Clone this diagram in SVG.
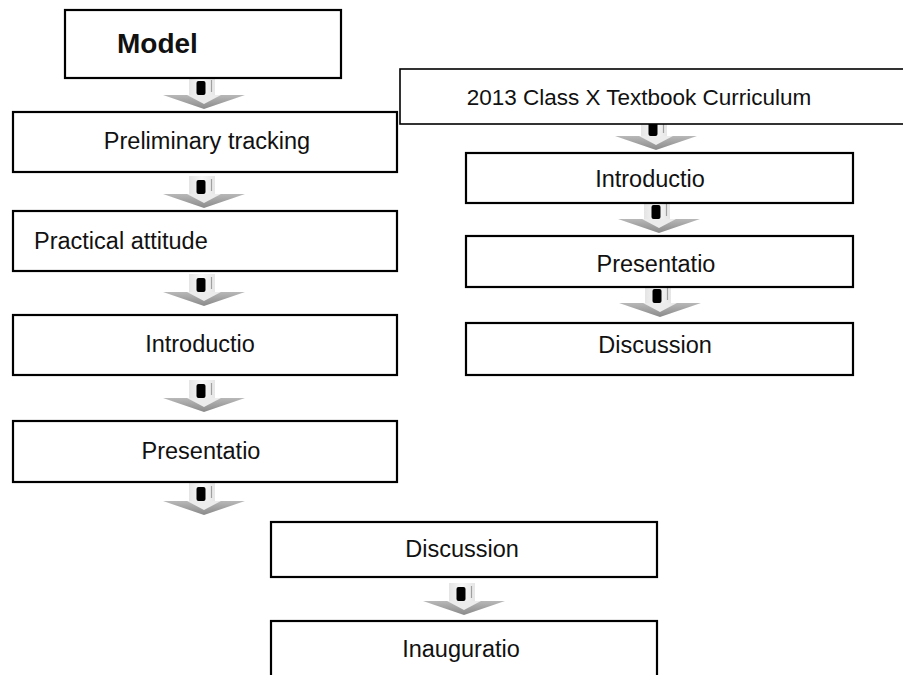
<svg xmlns="http://www.w3.org/2000/svg" width="903" height="675" viewBox="0 0 903 675">
<style>
.box{fill:#fff;stroke:#000;stroke-width:2.2}
.thin{stroke-width:1.6}
.t{font-family:"Liberation Sans",Arial,sans-serif;font-size:23.5px;fill:#111}
.c{text-anchor:middle}
.b{font-weight:bold;font-size:28px}
</style>
<defs>
<linearGradient id="sg" x1="0" y1="0" x2="1" y2="0">
<stop offset="0" stop-color="#e4e4e4"/><stop offset="0.5" stop-color="#f7f7f7"/><stop offset="1" stop-color="#e6e6e6"/>
</linearGradient>
<linearGradient id="hg" x1="0" y1="0" x2="0" y2="1">
<stop offset="0" stop-color="#b8b8b8"/><stop offset="1" stop-color="#8a8a8a"/>
</linearGradient>
<g id="arr">
<rect x="-12" y="-32" width="26" height="20" fill="url(#sg)"/>
<rect x="-4.5" y="-28" width="9" height="14" rx="2" fill="#000"/>
<line x1="10.5" y1="-29" x2="10.5" y2="-17" stroke="#a0a0a0" stroke-width="1.2"/>
<polygon points="-38,-14 44,-14 3,0" fill="url(#hg)"/>
<polygon points="-14,-14 20,-14 3,-5" fill="#ececec"/>
</g>
</defs>
<g id="connectors">
<use href="#arr" transform="translate(201,109)"/>
<use href="#arr" transform="translate(201,208)"/>
<use href="#arr" transform="translate(201,306)"/>
<use href="#arr" transform="translate(201,412)"/>
<use href="#arr" transform="translate(201,515)"/>
<use href="#arr" transform="translate(461,615)"/>
<use href="#arr" transform="translate(653,150)"/>
<use href="#arr" transform="translate(656,233)"/>
<use href="#arr" transform="translate(657,317)"/>
</g>
<g id="model"><rect class="box" x="65" y="10" width="276" height="68"/><text class="t b" x="117" y="53">Model</text></g>
<g id="preliminary"><rect class="box" x="13" y="112" width="384" height="60"/><text class="t c" x="207" y="149">Preliminary tracking</text></g>
<g id="curriculum"><rect class="box thin" x="400" y="69" width="510" height="55"/><text class="t c" x="639" y="105" style="font-size:22.5px">2013 Class X Textbook Curriculum</text></g>
<g id="practical"><rect class="box" x="13" y="211" width="384" height="60"/><text class="t" x="34" y="249">Practical attitude</text></g>
<g id="intro-left"><rect class="box" x="13" y="315" width="384" height="60"/><text class="t c" x="200" y="352">Introductio</text></g>
<g id="pres-left"><rect class="box" x="13" y="421" width="384" height="61"/><text class="t c" x="201" y="459">Presentatio</text></g>
<g id="intro-right"><rect class="box" x="466" y="153" width="387" height="50"/><text class="t c" x="650" y="187">Introductio</text></g>
<g id="pres-right"><rect class="box" x="466" y="236" width="387" height="51"/><text class="t c" x="656" y="272">Presentatio</text></g>
<g id="disc-right"><rect class="box" x="466" y="323" width="387" height="52"/><text class="t c" x="655" y="353">Discussion</text></g>
<g id="disc-bottom"><rect class="box" x="271" y="522" width="386" height="55"/><text class="t c" x="462" y="557">Discussion</text></g>
<g id="inauguratio"><rect class="box" x="271" y="621" width="386" height="70"/><text class="t c" x="461" y="657">Inauguratio</text></g>
</svg>
